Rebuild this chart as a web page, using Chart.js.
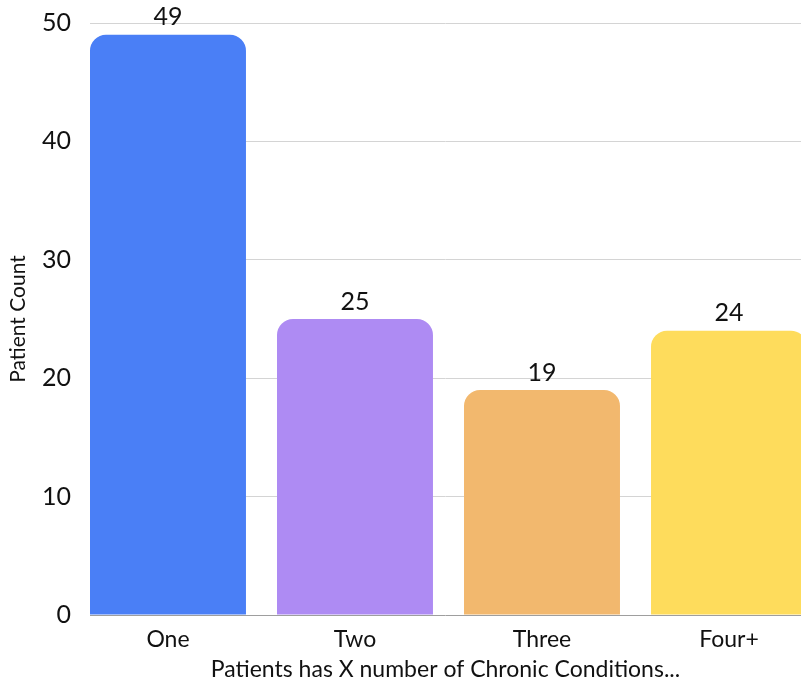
<!DOCTYPE html>
<html>
<head>
<meta charset="utf-8">
<script src="https://cdn.jsdelivr.net/npm/chart.js@4/dist/chart.umd.min.js"></script>
<style>
    body { margin: 0; background: #fff; overflow: hidden; }
    #wrap { width: 801px; height: 683px; position: relative; }
</style>
</head>
<body>
<div id="wrap"><canvas id="barChart"></canvas></div>
<script>
const categories = ["One", "Two", "Three", "Four+"];
const patientCounts = [49, 25, 19, 24];
const barColors = ["#4a7ff6", "#ae8bf3", "#f2b86e", "#fedc5c"];
const yTicks = [0, 10, 20, 30, 40, 50];

const fontFamily = "Lato, 'Noto Sans', sans-serif";

// escreve o valor por cima de cada barra
const valueLabels = {
    id: 'valueLabels',
    afterDatasetsDraw(chart) {
        const ctx = chart.ctx;
        const meta = chart.getDatasetMeta(0);
        ctx.save();
        ctx.font = "25px " + fontFamily;
        ctx.fillStyle = "#111";
        ctx.textAlign = "center";
        ctx.textBaseline = "bottom";
        meta.data.forEach((bar, i) => {
            ctx.fillText(String(patientCounts[i]), bar.x, bar.y - 5);
        });
        ctx.restore();
    }
};

const ctx = document.getElementById('barChart').getContext('2d');

new Chart(ctx, {
    type: "bar",
    data: {
        datasets: [{
            label: "Patient Count",
            data: patientCounts.map((v, i) => ({ x: i, y: v })),
            backgroundColor: barColors,
            borderWidth: 0,
            borderRadius: { topLeft: 16, topRight: 16, bottomLeft: 0, bottomRight: 0 },
            borderSkipped: false,
            barPercentage: 1,
            categoryPercentage: 0.834
        }]
    },
    options: {
        responsive: true,
        maintainAspectRatio: false,
        animation: false,
        layout: { padding: { top: 23, right: 0, left: 6, bottom: 0 } },
        plugins: {
            legend: { display: false },
            tooltip: { enabled: false }
        },
        scales: {
            x: {
                type: "linear",
                offset: false,
                min: -0.417,
                max: 3.385,
                grid: { display: false, offset: false },
                border: { display: false },
                ticks: {
                    stepSize: 1,
                    includeBounds: false,
                    autoSkip: false,
                    maxRotation: 0,
                    padding: 3,
                    color: "#111",
                    font: { family: fontFamily, size: 23 },
                    callback: v => categories[v] ?? ""
                },
                title: {
                    display: true,
                    text: "Patients has X number of Chronic Conditions...",
                    color: "#111",
                    font: { family: fontFamily, size: 23 },
                    padding: { top: 0, bottom: 0 }
                },
                afterFit(scale) { scale.height = 68; }
            },
            y: {
                min: 0,
                max: 50,
                grid: {
                    color: c => c.tick && c.tick.value === 0 ? "#9e9e9e" : "#d4d4d4",
                    lineWidth: 1,
                    drawTicks: true,
                    tickLength: 15,
                    tickColor: "rgba(0,0,0,0)"
                },
                border: { display: false },
                afterBuildTicks(scale) {
                    scale.ticks = yTicks.map(v => ({ value: v }));
                },
                ticks: {
                    padding: 4,
                    color: "#111",
                    font: { family: fontFamily, size: 25 }
                },
                title: {
                    display: true,
                    text: "Patient Count",
                    color: "#111",
                    font: { family: fontFamily, size: 21 },
                    padding: { top: 0, bottom: 0 }
                },
                afterFit(scale) { scale.width = 84; }
            }
        }
    },
    plugins: [valueLabels]
});
</script>
</body>
</html>
